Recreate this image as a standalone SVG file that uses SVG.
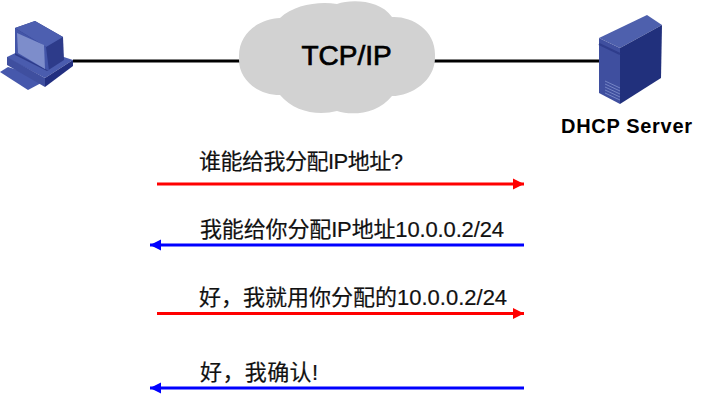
<svg xmlns="http://www.w3.org/2000/svg" width="706" height="400" viewBox="0 0 706 400">
<style>
.msg{font-family:"Liberation Sans","Noto Sans CJK SC",sans-serif;font-size:22px;fill:#111;stroke:#111;stroke-width:.2}
.link{stroke:#000;stroke-width:3;fill:none}
.r{stroke:#f00;stroke-width:3;fill:none;marker-end:url(#ar)}
.b{stroke:#00f;stroke-width:3;fill:none;marker-end:url(#ab)}
.vent{stroke:#7484c4;stroke-width:1;fill:none}
</style>
<defs>
<marker id="ar" markerUnits="userSpaceOnUse" markerWidth="12" markerHeight="12" refX="11" refY="6" orient="auto"><path d="M0,.5 L11,6 L0,11.500 Z" fill="#f00"/></marker>
<marker id="ab" markerUnits="userSpaceOnUse" markerWidth="12" markerHeight="12" refX="11" refY="6" orient="auto"><path d="M0,.5 L11,6 L0,11.500 Z" fill="#00f"/></marker>
</defs>
<g id="connectors">
<path class="link" d="M73 61H241"/>
<path class="link" d="M434 61H599"/>
<path class="r" d="M157 184H524"/>
<path class="b" d="M524 245H150"/>
<path class="r" d="M157 313.500H524"/>
<path class="b" d="M524 388H150"/>
</g>
<g id="pc">
<path d="M0 72L8 67L43 78V82L28 90Z" fill="#4658ac"/>
<path d="M7 57L30 46L73 60L45 78L7 58Z" fill="#4a5cae"/>
<path d="M7 57L45 78V87L7 65Z" fill="#3f4f9f"/>
<path d="M45 78L73 60V66L45 87Z" fill="#222f80"/>
<path d="M15 28L35 21L63 37L64 60L47 71L15 55Z" fill="#2d3b8a"/>
<path d="M15 28L35 21L63 37L46 47Z" fill="#4d5fb0"/>
<path d="M15 28L46 47L49 71L15 53Z" fill="#4355a8"/>
<path d="M17 33L44 45L45 69L18 53Z" fill="#7d8dcb"/>
</g>
<g id="server">
<path d="M599 38L647 15L662 25L620 48Z" fill="#4e60ad"/>
<path d="M620 48L662 25L661 78L620 104Z" fill="#21307c"/>
<path d="M599 38L620 48V104L599 93Z" fill="#3f4f9f"/>
<path class="vent" d="M605 81L620 88M605 84L620 91M605 87L620 94M605 90L620 97M605 93L620 100"/>
<path d="M599 44L620 54" stroke="#2f3d8c" stroke-width="2" fill="none"/>
</g>
<text x="561" y="133" font-family="Liberation Sans,sans-serif" font-size="20" font-weight="700" fill="#000" textLength="131" lengthAdjust="spacing">DHCP Server</text>
<g id="cloud">
<path d="M280 18C294 5 318 1 337 4C352 -1 380 0 392 17C412 16 436 30 435 56C436 80 412 96 392 96C378 114 352 116 337 111C318 116 294 112 280 95C258 95 238 80 239 58C238 32 260 19 280 18Z" fill="#d2d2d2"/>
<text x="346.500" y="65" text-anchor="middle" font-family="Liberation Sans,sans-serif" font-size="28" stroke="#000" stroke-width=".7" fill="#000">TCP/IP</text>
</g>
<text class="msg" x="199" y="169" textLength="204">谁能给我分配IP地址?</text>
<text class="msg" x="200" y="237" textLength="304">我能给你分配IP地址10.0.0.2/24</text>
<text class="msg" x="199" y="305">好，我就用你分配的10.0.0.2/24</text>
<text class="msg" x="200" y="380" textLength="118">好，我确认!</text>
</svg>
